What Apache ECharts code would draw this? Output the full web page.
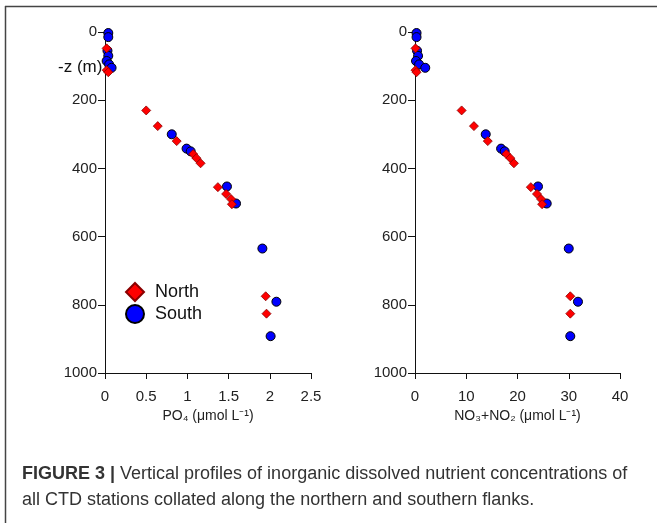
<!DOCTYPE html>
<html>
<head>
<meta charset="utf-8">
<script src="https://cdn.jsdelivr.net/npm/echarts@6/dist/echarts.min.js"></script>
<style>
  html, body { margin: 0; padding: 0; background: #fff; }
  #chart { width: 657px; height: 523px; }
</style>
</head>
<body>
<div id="chart"></div>
<script>
// Depth profiles: [concentration, depth (m)]
const northPO4 = [
  [0.02, 48], [0.02, 112], [0.04, 118],
  [0.50, 230], [0.64, 276], [0.87, 320], [1.07, 358], [1.11, 370], [1.16, 385],
  [1.37, 455], [1.47, 475], [1.53, 490], [1.54, 505], [1.95, 775], [1.96, 826]
];
const southPO4 = [
  [0.04, 3], [0.04, 15], [0.03, 55], [0.04, 70], [0.02, 85], [0.05, 95], [0.08, 105],
  [0.81, 300], [0.99, 342], [1.04, 350], [1.48, 453], [1.59, 503], [1.91, 635], [2.08, 791], [2.01, 892]
];
const northNOx = [
  [0.1, 48], [0.1, 112], [0.3, 118],
  [9.1, 230], [11.5, 276], [14.2, 320], [17.8, 358], [18.6, 370], [19.3, 385],
  [22.6, 455], [23.8, 475], [24.6, 490], [24.8, 505], [30.3, 775], [30.3, 826]
];
const southNOx = [
  [0.3, 3], [0.3, 15], [0.4, 55], [0.6, 70], [0.2, 85], [0.8, 95], [2.0, 105],
  [13.8, 300], [16.8, 342], [17.5, 350], [24.0, 453], [25.7, 503], [30.0, 635], [31.8, 791], [30.3, 892]
];
const depthTicks = { min: 0, max: 1000, interval: 200 };
const po4Ticks = { min: 0, max: 2.5, interval: 0.5 };
const noxTicks = { min: 0, max: 40, interval: 10 };

const FONT = '"Liberation Sans", Arial, sans-serif';
const black = '#111';

function xAxisDef(gridIndex, ticks, name) {
  return {
    type: 'value', gridIndex, min: ticks.min, max: ticks.max, interval: ticks.interval,
    name, nameLocation: 'middle', nameGap: 30,
    nameTextStyle: { fontFamily: FONT, fontSize: 14, color: '#222' },
    axisLine: { show: true, onZero: false, lineStyle: { color: black, width: 1 } },
    axisTick: { show: true, inside: false, length: 6, lineStyle: { color: black } },
    axisLabel: { fontFamily: FONT, fontSize: 15, color: '#222', margin: 16, formatter: v => String(v) },
    splitLine: { show: false }
  };
}
function yAxisDef(gridIndex) {
  return {
    type: 'value', gridIndex, inverse: true,
    min: depthTicks.min, max: depthTicks.max, interval: depthTicks.interval,
    axisLine: { show: true, onZero: false, lineStyle: { color: black, width: 1 } },
    axisTick: { show: true, inside: false, length: 7, lineStyle: { color: black } },
    axisLabel: { fontFamily: FONT, fontSize: 15, color: '#222', margin: 8, formatter: v => String(v) },
    splitLine: { show: false }
  };
}
const northStyle = { color: '#ff0000', borderColor: '#8a0000', borderWidth: 0.8, opacity: 1 };
const southStyle = { color: '#0000ff', borderColor: '#000', borderWidth: 1, opacity: 1 };

const chart = echarts.init(document.getElementById('chart'), null, { renderer: 'canvas' });
chart.setOption({
  animation: false,
  backgroundColor: '#fff',
  grid: [
    { left: 105, top: 32, width: 206, height: 341 },
    { left: 415, top: 32, width: 205, height: 341 }
  ],
  xAxis: [
    xAxisDef(0, po4Ticks, 'PO₄ (μmol L⁻¹)'),
    xAxisDef(1, noxTicks, 'NO₃+NO₂ (μmol L⁻¹)')
  ],
  yAxis: [yAxisDef(0), yAxisDef(1)],
  legend: {
    orient: 'vertical', left: 120, top: 277, itemGap: 2,
    itemWidth: 18, itemHeight: 18,
    textStyle: { fontFamily: FONT, fontSize: 18, color: '#111', padding: [0, 0, 0, 6] },
    data: [
      { name: 'North', icon: 'diamond' },
      { name: 'South', icon: 'circle' }
    ]
  },
  graphic: [
    { type: 'text', left: 58, top: 59, style: { text: '-z (m)', font: '17px ' + FONT, fill: '#111' } },
    { type: 'line', shape: { x1: 5, y1: 6.5, x2: 657, y2: 6.5 }, style: { stroke: '#444', lineWidth: 1.5 } },
    { type: 'line', shape: { x1: 5.5, y1: 6, x2: 5.5, y2: 523 }, style: { stroke: '#444', lineWidth: 1.5 } },
    {
      type: 'text', left: 22, top: 461,
      style: {
        text: '{b|FIGURE 3 |} Vertical profiles of inorganic dissolved nutrient concentrations of\nall CTD stations collated along the northern and southern flanks.',
        font: '18px ' + FONT, fill: '#333', lineHeight: 26,
        rich: { b: { fontWeight: 'bold', fontSize: 18, fontFamily: FONT, fill: '#333' } }
      }
    }
  ],
  series: [
    { name: 'North', type: 'scatter', xAxisIndex: 0, yAxisIndex: 0, symbol: 'diamond', symbolSize: 9, itemStyle: northStyle, data: northPO4, z: 3 },
    { name: 'South', type: 'scatter', xAxisIndex: 0, yAxisIndex: 0, symbol: 'circle', symbolSize: 9, itemStyle: southStyle, data: southPO4, z: 2 },
    { name: 'North', type: 'scatter', xAxisIndex: 1, yAxisIndex: 1, symbol: 'diamond', symbolSize: 9, itemStyle: northStyle, data: northNOx, z: 3 },
    { name: 'South', type: 'scatter', xAxisIndex: 1, yAxisIndex: 1, symbol: 'circle', symbolSize: 9, itemStyle: southStyle, data: southNOx, z: 2 }
  ]
});
</script>
</body>
</html>
